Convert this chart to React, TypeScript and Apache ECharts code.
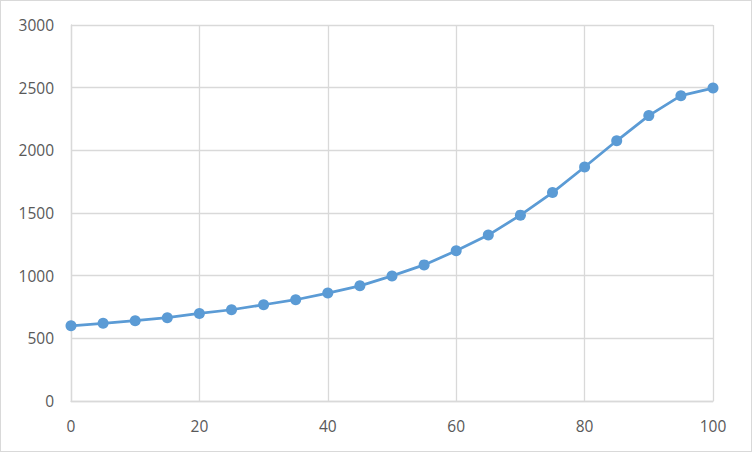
import React, { useEffect, useRef } from "react";
import * as echarts from "echarts";

const xValues = [0, 5, 10, 15, 20, 25, 30, 35, 40, 45, 50, 55, 60, 65, 70, 75, 80, 85, 90, 95, 100];
const yValues = [600, 620, 641, 665, 699, 728, 768, 808, 861, 919, 998, 1086, 1199, 1324, 1483, 1663, 1867, 2076, 2277, 2436, 2497];

export default function App() {
  const ref = useRef<HTMLDivElement>(null);
  useEffect(() => {
    if (!ref.current) return;
    const chart = echarts.init(ref.current, undefined, { renderer: "svg" });
    const font = "'Open Sans', 'Liberation Sans', sans-serif";
    chart.setOption({
      animation: false,
      backgroundColor: "#ffffff",
      grid: { left: 70, right: 38, top: 24, bottom: 50, containLabel: false },
      xAxis: {
        type: "value",
        min: 0,
        max: 100,
        interval: 20,
        axisLine: { show: true, lineStyle: { color: "#d9d9d9", width: 1.3 } },
        axisTick: { show: false },
        splitLine: { show: true, lineStyle: { color: "#d9d9d9", width: 1.3 } },
        axisLabel: { color: "#595959", fontSize: 15.5, fontFamily: font, margin: 17, formatter: (v: number) => String(v) },
      },
      yAxis: {
        type: "value",
        min: 0,
        max: 3000,
        interval: 500,
        axisLine: { show: true, lineStyle: { color: "#d9d9d9", width: 1.3 } },
        axisTick: { show: false },
        splitLine: { show: true, lineStyle: { color: "#d9d9d9", width: 1.3 } },
        axisLabel: { color: "#595959", fontSize: 15.5, fontFamily: font, margin: 17, formatter: (v: number) => String(v) },
      },
      series: [
        {
          type: "line",
          data: xValues.map((x, i) => [x, yValues[i]]),
          symbol: "circle",
          symbolSize: 11,
          lineStyle: { color: "#5b9bd5", width: 2.75 },
          itemStyle: { color: "#5b9bd5" },
        },
      ],
    });
    return () => chart.dispose();
  }, []);
  return (
    <div
      ref={ref}
      style={{
        position: "fixed",
        left: 0,
        top: 0,
        width: 752,
        height: 452,
        boxSizing: "border-box",
        border: "1px solid #d9d9d9",
      }}
    />
  );
}
